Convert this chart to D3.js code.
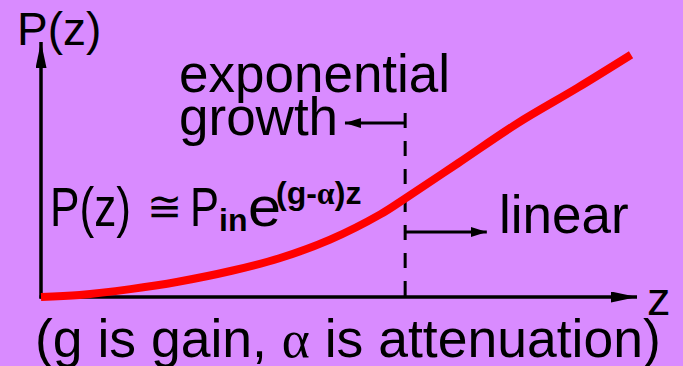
<!DOCTYPE html>
<html>
<head>
<meta charset="utf-8">
<script src="https://cdn.jsdelivr.net/npm/d3@7"></script>
<style>
  html, body { margin: 0; padding: 0; background: #d98bff; }
  svg { display: block; }
  text { font-family: "Liberation Sans", Arial, Helvetica, sans-serif; fill: #000; }
</style>
</head>
<body>
<svg id="chart" width="683" height="366"></svg>
<script>
// Optical power along the amplifier: distance z and power P(z), arbitrary units
const zValues = [0, 6.5, 15, 23, 32, 40, 48.5, 57, 61, 70, 80, 90, 99];
const pValues = [0, 0.8, 3.1, 6.0, 10.3, 15.2, 22.5, 32.5, 38.5, 52.5, 68.2, 82, 95];

// Where the exponential regime gives way to the linear one
const regimeBoundary = [61.1];
const axisLabels = ["P(z)", "z"];
const regimeLabels = ["exponential", "growth", "linear"];

const svg = d3.select("#chart");
const W = 683, H = 366;

svg.append("rect").attr("width", W).attr("height", H).attr("fill", "#d98bff");

const x = d3.scaleLinear().domain([0, 100]).range([41, 637]);
const y = d3.scaleLinear().domain([0, 100]).range([297, 42]);

// Arrowheads
const defs = svg.append("defs");
function marker(id, len, half) {
  defs.append("marker")
    .attr("id", id)
    .attr("viewBox", `0 ${-half} ${len} ${2 * half}`)
    .attr("refX", len).attr("refY", 0)
    .attr("markerUnits", "userSpaceOnUse")
    .attr("markerWidth", len).attr("markerHeight", 2 * half)
    .attr("orient", "auto")
    .append("path")
    .attr("d", `M0,${-half}L${len},0L0,${half}Z`)
    .attr("fill", "#000");
}
marker("axisHead", 26, 5.5);
marker("smallHead", 16, 5);

// Axes
svg.append("line")
  .attr("x1", x(0)).attr("y1", y(0) + 1.5)
  .attr("x2", x(0)).attr("y2", y(100))
  .attr("stroke", "#000").attr("stroke-width", 3.5)
  .attr("marker-end", "url(#axisHead)");
svg.append("line")
  .attr("x1", x(0) - 1.5).attr("y1", y(0))
  .attr("x2", x(100)).attr("y2", y(0))
  .attr("stroke", "#000").attr("stroke-width", 3.5)
  .attr("marker-end", "url(#axisHead)");

// Dashed boundary between regimes
svg.append("line")
  .attr("x1", x(regimeBoundary[0])).attr("x2", x(regimeBoundary[0]))
  .attr("y1", y(72.2)).attr("y2", y(0))
  .attr("stroke", "#000").attr("stroke-width", 3)
  .attr("stroke-dasharray", "15,13");

// Regime arrows
svg.append("line")
  .attr("x1", x(regimeBoundary[0])).attr("x2", x(51))
  .attr("y1", y(68.2)).attr("y2", y(68.2))
  .attr("stroke", "#000").attr("stroke-width", 3)
  .attr("marker-end", "url(#smallHead)");
svg.append("line")
  .attr("x1", x(regimeBoundary[0])).attr("x2", x(74.8))
  .attr("y1", y(25.5)).attr("y2", y(25.5))
  .attr("stroke", "#000").attr("stroke-width", 3)
  .attr("marker-end", "url(#smallHead)");

// Power curve
const line = d3.line()
  .x((d, i) => x(zValues[i]))
  .y(d => y(d))
  .curve(d3.curveCatmullRom.alpha(0.5));
svg.append("path")
  .datum(pValues)
  .attr("d", line)
  .attr("fill", "none")
  .attr("stroke", "#ff0000")
  .attr("stroke-width", 8);

// Axis labels
svg.append("text").attr("x", 17).attr("y", 45)
  .attr("font-size", 46).text(axisLabels[0]);
svg.append("text").attr("x", 647).attr("y", 315)
  .attr("font-size", 47).text(axisLabels[1]);

// Regime labels
svg.append("text").attr("x", 179).attr("y", 92)
  .attr("font-size", 53).text(regimeLabels[0]);
svg.append("text").attr("x", 179).attr("y", 135)
  .attr("font-size", 53).text(regimeLabels[1]);
svg.append("text").attr("x", 499).attr("y", 233)
  .attr("font-size", 53).text(regimeLabels[2]);

// Small-signal gain formula
const eq = svg.append("g");
eq.append("text").attr("x", 50).attr("y", 226).attr("font-size", 55)
  .attr("textLength", 81).attr("lengthAdjust", "spacingAndGlyphs").text("P(z)");
eq.append("text").attr("x", 147).attr("y", 221).attr("font-size", 42)
  .attr("font-family", "DejaVu Sans").text("\u2245");
eq.append("text").attr("x", 190).attr("y", 226).attr("font-size", 55)
  .attr("textLength", 29).attr("lengthAdjust", "spacingAndGlyphs").text("P");
eq.append("text").attr("x", 219).attr("y", 231).attr("font-size", 32)
  .attr("font-weight", "bold").text("in");
eq.append("text").attr("x", 248).attr("y", 226).attr("font-size", 55)
  .attr("textLength", 33).attr("lengthAdjust", "spacingAndGlyphs").text("e");
const sup = eq.append("text").attr("x", 276).attr("y", 204).attr("font-size", 32)
  .attr("font-weight", "bold");
sup.append("tspan").text("(g-");
sup.append("tspan").attr("font-family", "Liberation Serif").text("\u03b1");
sup.append("tspan").text(")z");

// Caption
const cap = svg.append("text").attr("x", 35).attr("y", 357).attr("font-size", 53.5);
cap.append("tspan").text("(g is gain, ");
cap.append("tspan").attr("font-family", "Liberation Serif").text("\u03b1");
cap.append("tspan").text(" is attenuation)");
</script>
</body>
</html>
